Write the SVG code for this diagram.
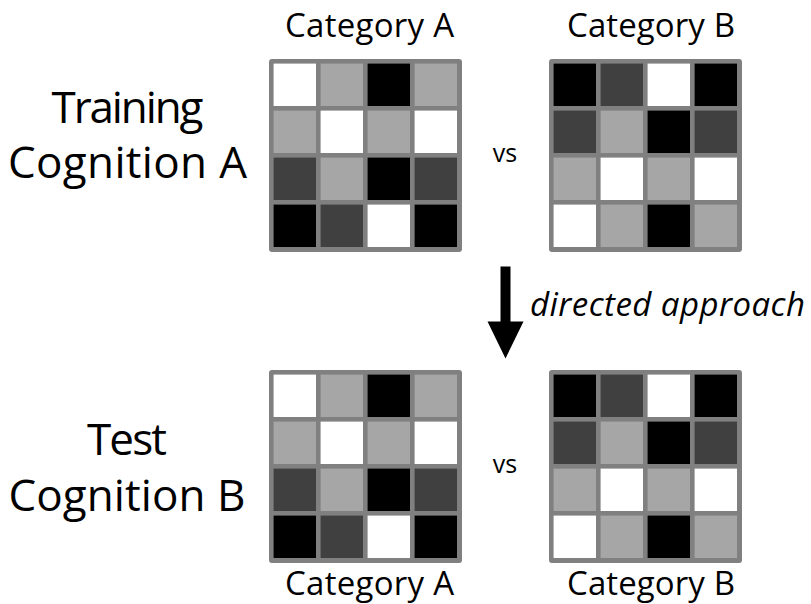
<svg xmlns="http://www.w3.org/2000/svg" width="811" height="604" viewBox="0 0 811 604">
<style>
.lbl{font-family:"Open Sans","Noto Sans",sans-serif;fill:#000;text-anchor:middle}
.big{font-size:44px}
.cat{font-size:33px}
.vs{font-size:25px}
.it{font-family:"Open Sans","Noto Sans",sans-serif;font-style:italic;font-size:33px;fill:#000}
.bg{fill:#808080}
.w{fill:#ffffff}.l{fill:#a6a6a6}.d{fill:#404040}.b{fill:#000000}
</style>
<defs>
<g id="gridA">
<rect class="bg" x="0" y="0" width="193" height="193" rx="3"/>
<rect class="w" x="4.6" y="4.6" width="42.4" height="42.4"/><rect class="l" x="51.6" y="4.6" width="42.4" height="42.4"/><rect class="b" x="98.6" y="4.6" width="42.4" height="42.4"/><rect class="l" x="145.6" y="4.6" width="42.4" height="42.4"/>
<rect class="l" x="4.6" y="51.6" width="42.4" height="42.4"/><rect class="w" x="51.6" y="51.6" width="42.4" height="42.4"/><rect class="l" x="98.6" y="51.6" width="42.4" height="42.4"/><rect class="w" x="145.6" y="51.6" width="42.4" height="42.4"/>
<rect class="d" x="4.6" y="98.6" width="42.4" height="42.4"/><rect class="l" x="51.6" y="98.6" width="42.4" height="42.4"/><rect class="b" x="98.6" y="98.6" width="42.4" height="42.4"/><rect class="d" x="145.6" y="98.6" width="42.4" height="42.4"/>
<rect class="b" x="4.6" y="145.6" width="42.4" height="42.4"/><rect class="d" x="51.6" y="145.6" width="42.4" height="42.4"/><rect class="w" x="98.6" y="145.6" width="42.4" height="42.4"/><rect class="b" x="145.6" y="145.6" width="42.4" height="42.4"/>
</g>
<g id="gridB">
<rect class="bg" x="0" y="0" width="193" height="193" rx="3"/>
<rect class="b" x="4.6" y="4.6" width="42.4" height="42.4"/><rect class="d" x="51.6" y="4.6" width="42.4" height="42.4"/><rect class="w" x="98.6" y="4.6" width="42.4" height="42.4"/><rect class="b" x="145.6" y="4.6" width="42.4" height="42.4"/>
<rect class="d" x="4.6" y="51.6" width="42.4" height="42.4"/><rect class="l" x="51.6" y="51.6" width="42.4" height="42.4"/><rect class="b" x="98.6" y="51.6" width="42.4" height="42.4"/><rect class="d" x="145.6" y="51.6" width="42.4" height="42.4"/>
<rect class="l" x="4.6" y="98.6" width="42.4" height="42.4"/><rect class="w" x="51.6" y="98.6" width="42.4" height="42.4"/><rect class="l" x="98.6" y="98.6" width="42.4" height="42.4"/><rect class="w" x="145.6" y="98.6" width="42.4" height="42.4"/>
<rect class="w" x="4.6" y="145.6" width="42.4" height="42.4"/><rect class="l" x="51.6" y="145.6" width="42.4" height="42.4"/><rect class="b" x="98.6" y="145.6" width="42.4" height="42.4"/><rect class="l" x="145.6" y="145.6" width="42.4" height="42.4"/>
</g>
</defs>
<rect width="811" height="604" fill="#ffffff"/>
<g id="label-training">
<text class="lbl big" x="127.5" y="123" textLength="152">Training</text>
<text class="lbl big" x="127.5" y="178" textLength="239">Cognition A</text>
</g>
<g id="label-test">
<text class="lbl big" x="127" y="455" textLength="80">Test</text>
<text class="lbl big" x="127" y="511" textLength="237">Cognition B</text>
</g>
<g id="train-catA">
<text class="lbl cat" x="369.5" y="37" textLength="169">Category A</text>
<use href="#gridA" x="269" y="59"/>
</g>
<g id="train-catB">
<text class="lbl cat" x="651" y="37" textLength="168">Category B</text>
<use href="#gridB" x="549" y="59"/>
</g>
<g id="train-vs"><text class="lbl vs" x="505" y="162">vs</text></g>
<g id="test-catA">
<use href="#gridA" x="269" y="370"/>
<text class="lbl cat" x="369.5" y="595" textLength="169">Category A</text>
</g>
<g id="test-catB">
<use href="#gridB" x="549" y="370"/>
<text class="lbl cat" x="651" y="595" textLength="168">Category B</text>
</g>
<g id="test-vs"><text class="lbl vs" x="505" y="473">vs</text></g>
<g id="connectors">
<path d="M500.5,266.5 H510.5 V321.5 H523.5 L505.5,358.5 L487.5,321.5 H500.5 Z" fill="#000"/>
<text class="it" x="530" y="316" textLength="275">directed approach</text>
</g>
</svg>
